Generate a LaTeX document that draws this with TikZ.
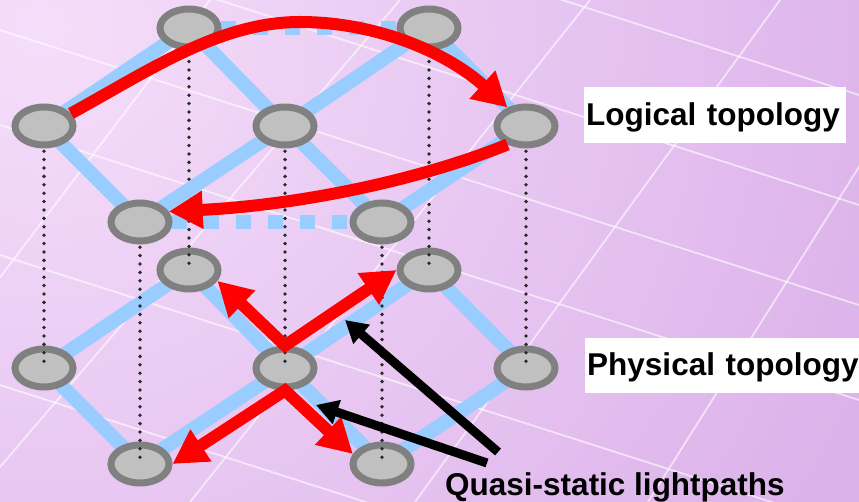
\documentclass[tikz,border=0pt]{standalone}
\usepackage{fontspec}
\setmainfont{Liberation Sans}
\usetikzlibrary{arrows.meta,shapes.geometric,positioning}
\definecolor{bgbase}{HTML}{DCB2EA}
\definecolor{bgpale}{HTML}{F5DEFA}
\definecolor{linkblue}{HTML}{99CCFF}
\definecolor{sitegray}{HTML}{808080}
\definecolor{sitefill}{HTML}{C0C0C0}
\definecolor{dotgray}{HTML}{2A2A2A}
\newcommand\tagfont{\fontsize{31.5}{36}\selectfont\bfseries}
\pgfdeclarelayer{backdrop}
\pgfdeclarelayer{lower}
\pgfdeclarelayer{uplinks}
\pgfsetlayers{backdrop,lower,uplinks,main}
\tikzset{
  site/.style={
    ellipse,
    draw=sitegray,
    fill=sitefill,
    line width=7pt,
    minimum width=58pt,
    minimum height=38pt,
    inner sep=0pt
  },
  fibre/.style={
    draw=linkblue,
    line width=14pt
  },
  fibredash/.style={
    fibre,
    dash pattern=on 15pt off 17pt
  },
  riser/.style={
    draw=dotgray,
    line width=3.8pt,
    line cap=round,
    dash pattern=on 0pt off 8.4pt
  },
  lightpath/.style={
    draw=red,
    line width=12pt,
    arrows={-Triangle[length=34pt,width=36pt]}
  },
  lightfork/.style={
    draw=red,
    line width=12pt,
    arrows={Triangle[length=34pt,width=36pt]-Triangle[length=34pt,width=36pt]}
  },
  pointer/.style={
    draw=black,
    line width=9pt,
    arrows={-Triangle[length=22pt,width=24pt]}
  },
  gridline/.style={
    draw=white,
    opacity=0.6,
    line width=1.8pt
  },
  tag/.style={
    fill=white,
    inner xsep=2pt,
    inner ysep=0pt,
    align=left,
    text height=22.5pt,
    text depth=2pt,
    font=\tagfont
  }
}

\begin{document}
\begin{tikzpicture}[x=1pt,y=-1pt]
\useasboundingbox (0,0) rectangle (859,502);

% backdrop with faint grid
\begin{pgfonlayer}{backdrop}
  \fill[bgbase] (0,0) rectangle (859,502);
  \begin{scope}
    \clip (0,0) rectangle (859,502);
    \shade[inner color=bgpale, outer color=bgbase] (40,30) circle (900);
    \foreach \c in {-180,-70,30,125,255,385}
      \draw[gridline] (0,\c) -- (859,\c+275);
    \foreach \t/\b in {210/-170,400/-30,590/190,780/415,964/648}
      \draw[gridline] (\t,0) -- (\b,502);
  \end{scope}
\end{pgfonlayer}

% physical topology
\begin{pgfonlayer}{lower}
  \foreach \n/\x/\y in {a/189/28,b/429/28,c/44/126,d/285/126,e/526/126,f/140/222,g/382/222}
    \node[site] (p\n) at (\x,\y+242) {};
\end{pgfonlayer}

% logical topology
\foreach \n/\x/\y in {a/189/28,b/429/28,c/44/126,d/285/126,e/526/126,f/140/222,g/382/222}
  \node[site] (l\n) at (\x,\y) {};

% dotted risers between the two layers
\begin{pgfonlayer}{lower}
  \foreach \n in {a,...,g}
    \draw[riser] (l\n.center) -- (p\n.center);
\end{pgfonlayer}

% fibre links
\begin{pgfonlayer}{backdrop}
  \foreach \u/\v in {a/c,a/d,b/d,b/e,c/f,d/f,d/g,e/g}
    \draw[fibre] (p\u.center) -- (p\v.center);
\end{pgfonlayer}
\begin{pgfonlayer}{uplinks}
  \foreach \u/\v in {a/c,a/d,b/d,b/e,c/f,d/f,d/g,e/g}
    \draw[fibre] (l\u.center) -- (l\v.center);
  \draw[fibredash] (la.center) -- (lb.center);
  \draw[fibredash] (lf.center) -- (lg.center);
\end{pgfonlayer}

% lightpaths
\draw[lightpath] (lc.25) .. controls (150,70) and (220,22) .. (300,22)
  .. controls (380,22) and (450,55) .. (le.135);
\draw[lightpath] (le.225) .. controls (420,180) and (300,205) .. (lf.20);
\draw[lightfork] (pa.-21) -- (pd.north) -- (pb.west);
\draw[lightfork] (pf.east) -- (pd.south) -- (pg.161);

% labels
\node[tag, anchor=west, text width=258pt, minimum height=56pt] (logical) at (584,115) {Logical topology};
\node[tag, anchor=west, text width=272pt, minimum height=55pt] (physical) at (585,365.5) {Physical topology};
\node[font=\tagfont, anchor=base west, inner sep=0pt] (quasi) at (445,495) {Quasi-static lightpaths};

% pointers to the lightpaths
\coordinate (tailhi) at (498,452);
\coordinate (taillo) at (487,463);
\coordinate (aimhi) at (345,320);
\coordinate (aimlo) at (316,405);
\draw[pointer] (tailhi) -- (aimhi);
\draw[pointer] (taillo) -- (aimlo);
\end{tikzpicture}
\end{document}
